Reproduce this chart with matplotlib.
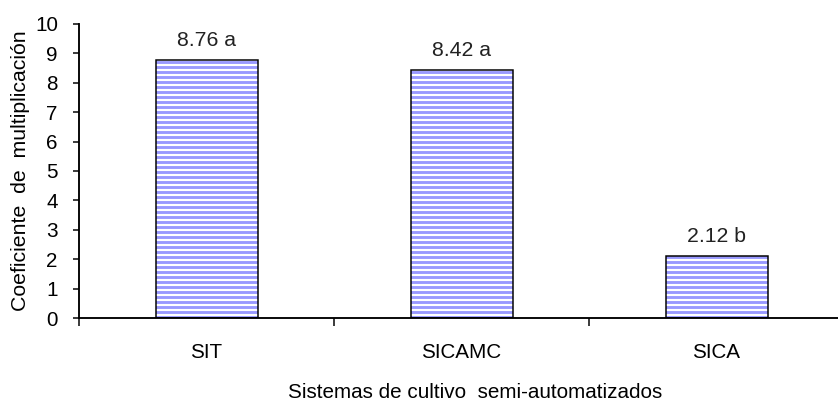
import numpy as np
import matplotlib.pyplot as plt

# data
sistemas = ['SIT', 'SICAMC', 'SICA']
coeficiente = [8.76, 8.42, 2.12]
letras = ['a', 'a', 'b']

plt.rcParams['font.family'] = ['Liberation Sans', 'DejaVu Sans']
plt.rcParams['hatch.linewidth'] = 2.3

dpi = 90
fig = plt.figure(figsize=(838 / dpi, 406 / dpi), dpi=dpi)
ax = fig.add_axes([79 / 838, 88 / 406, 765 / 838, 294 / 406])

x = np.arange(len(sistemas))
# striped fill (hatch takes the edge colour), then black outline on top
ax.bar(x, coeficiente, width=0.4, color='white', edgecolor='#9999ff',
       hatch='---', linewidth=0)
ax.bar(x, coeficiente, width=0.4, fill=False, edgecolor='black', linewidth=1.2)

for xi, v, l in zip(x, coeficiente, letras):
    ax.annotate(f'{v:.2f} {l}', (xi, v), xytext=(0, 8), textcoords='offset points',
                ha='center', va='bottom', fontsize=17, color='#222222')

ax.set_xlim(-0.5, 2.5)
ax.set_ylim(0, 10)
ax.set_yticks(range(0, 11))
ax.set_xticks(x)
ax.set_xticklabels(sistemas, fontsize=16.5)
ax.tick_params(axis='x', which='major', length=0, pad=20)
ax.set_xticks([-0.5, 0.5, 1.5, 2.5], minor=True)
ax.tick_params(axis='x', which='minor', length=6, width=1.2, direction='out')
ax.tick_params(axis='y', length=5, width=1.2, labelsize=16.5, pad=12)

for s in ['top', 'right']:
    ax.spines[s].set_visible(False)
for s in ['left', 'bottom']:
    ax.spines[s].set_linewidth(1.5)

ax.set_ylabel('Coeficiente  de  multiplicación', fontsize=17, labelpad=4)
fig.text(475 / 838, 1 - 392 / 406, 'Sistemas de cultivo  semi-automatizados',
         ha='center', va='center', fontsize=16.5)

fig.savefig('out.png', dpi=dpi)
